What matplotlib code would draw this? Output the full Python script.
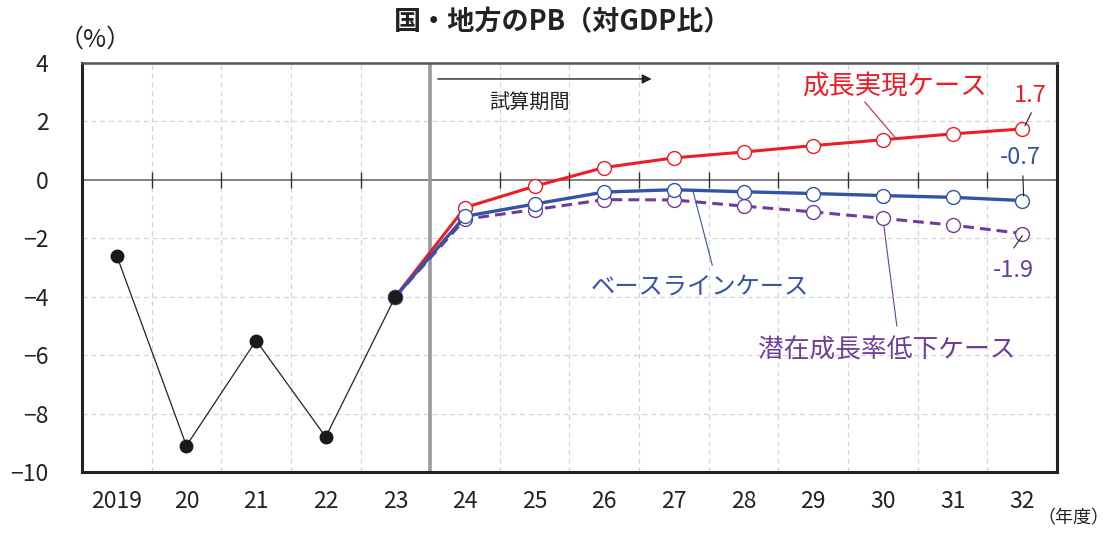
import numpy as np
import matplotlib
matplotlib.use('Agg')
import matplotlib.pyplot as plt

plt.rcParams['font.family'] = ['Noto Sans CJK JP', 'DejaVu Sans']
plt.rcParams['axes.unicode_minus'] = True

# actual values (FY2019-2023)
actual_years = [2019, 2020, 2021, 2022, 2023]
actual_pb = [-2.6, -9.1, -5.5, -8.8, -4.0]

# projections (start from FY2023 actual)
proj_years = [2023, 2024, 2025, 2026, 2027, 2028, 2029, 2030, 2031, 2032]
growth_pb = [-4.0, -0.95, -0.22, 0.42, 0.75, 0.95, 1.17, 1.37, 1.57, 1.74]
baseline_pb = [-4.0, -1.25, -0.83, -0.42, -0.34, -0.41, -0.47, -0.54, -0.60, -0.71]
lowgrowth_pb = [-4.0, -1.35, -1.02, -0.68, -0.69, -0.90, -1.10, -1.32, -1.55, -1.84]

xtick_labels = ['2019', '20', '21', '22', '23', '24', '25', '26', '27', '28',
                '29', '30', '31', '32']

red = '#ee1c25'
blue = '#3453a4'
purple = '#6f3d98'

fig = plt.figure(figsize=(11.15, 5.33), dpi=100)
ax = fig.add_axes([0.0735, 0.1144, 0.8745, 0.7676])

ax.set_xlim(2018.5, 2032.5)
ax.set_ylim(-10, 4)

# grid
half_years = np.arange(2019.5, 2032, 1.0)
for xv in half_years:
    if xv == 2023.5:
        continue
    ax.axvline(xv, color='#d4d4d4', linestyle=(0, (4, 3)), linewidth=0.9, zorder=0)
for yv in [-8, -6, -4, -2, 2]:
    ax.axhline(yv, color='#d4d4d4', linestyle=(0, (4, 3)), linewidth=0.9, zorder=0)

# zero line with small ticks
ax.axhline(0, color='#777777', linewidth=1.3, zorder=1)
ax.plot(half_years, np.zeros(len(half_years)), linestyle='none', marker='|',
        markersize=11, markeredgewidth=1.0, color='#333333', zorder=1)

# projection start
ax.axvline(2023.5, color='#9a9a9a', linewidth=2.6, zorder=1)

# series
ax.plot(proj_years, lowgrowth_pb, color=purple, linewidth=2.2, linestyle=(0, (3.5, 2)),
        marker='o', markersize=10, markerfacecolor='white', markeredgecolor=purple,
        markeredgewidth=1.0, zorder=3)
ax.plot(proj_years, growth_pb, color=red, linewidth=2.2,
        marker='o', markersize=10, markerfacecolor='white', markeredgecolor=red,
        markeredgewidth=1.0, zorder=4)
ax.plot(proj_years, baseline_pb, color=blue, linewidth=2.4,
        marker='o', markersize=10, markerfacecolor='white', markeredgecolor=blue,
        markeredgewidth=1.0, zorder=5)
ax.plot(actual_years, actual_pb, color='#222222', linewidth=0.9,
        marker='o', markersize=9, markerfacecolor='#1a1a1a', markeredgecolor='#1a1a1a',
        zorder=6)

# axes styling
for s in ax.spines.values():
    s.set_linewidth(2.2)
    s.set_color('#222222')
ax.spines['top'].set_color('#555555')
ax.spines['top'].set_linewidth(1.8)

ax.set_xticks(range(2019, 2033))
ax.set_xticklabels(xtick_labels)
ax.set_yticks(range(-10, 5, 2))
ax.tick_params(axis='both', length=0, labelsize=16.5, colors='#222222')
ax.tick_params(axis='y', pad=24)
ax.tick_params(axis='x', pad=13)

# annotations
ax.annotate('', xy=(2026.68, 3.45), xytext=(2023.61, 3.45),
            arrowprops=dict(arrowstyle='-|>', color='#222222', lw=1.0,
                            mutation_scale=14, shrinkA=0, shrinkB=0))
ax.text(2024.93, 2.63, '試算期間', fontsize=14.5, color='#222222',
        ha='center', va='center')

ax.text(2030.17, 3.21, '成長実現ケース', fontsize=19, color=red, ha='center', va='center')
ax.plot([2029.74, 2030.19], [2.66, np.interp(2030.19, proj_years, growth_pb)],
        color=red, linewidth=0.8, zorder=4)

ax.text(2027.37, -3.67, 'ベースラインケース', fontsize=17.5, color=blue,
        ha='center', va='center')
ax.plot([2027.27, 2027.55], [np.interp(2027.27, proj_years, baseline_pb), -2.92],
        color=blue, linewidth=0.8, zorder=4)

ax.text(2030.06, -5.83, '潜在成長率低下ケース', fontsize=18.5, color=purple,
        ha='center', va='center')
ax.plot([2030.0, 2030.2], [lowgrowth_pb[7], -5.0], color=purple, linewidth=0.8, zorder=2)

ax.text(2032.11, 2.90, '1.7', fontsize=17, color=red, ha='center', va='center')
ax.plot([2032.13, 2032.04], [2.29, 1.85], color='#222222', linewidth=0.8, zorder=6)

ax.text(2031.98, 0.75, '-0.7', fontsize=17, color=blue, ha='center', va='center')
ax.plot([2032.01, 2032.02], [0.13, -0.55], color='#222222', linewidth=0.8, zorder=6)

ax.text(2031.87, -3.1, '-1.9', fontsize=17, color=purple, ha='center', va='center')
ax.plot([2031.88, 2032.0], [-2.33, -1.92], color='#222222', linewidth=0.8, zorder=6)

fig.text(0.505, 0.958, '国・地方のPB（対GDP比）', fontsize=19.5, fontweight='bold',
         color='#222222', ha='center', va='center')
fig.text(0.085, 0.925, '（%）', fontsize=18, color='#222222', ha='center', va='center')
fig.text(0.995, 0.028, '（年度）', fontsize=13, color='#222222', ha='right', va='center')

fig.savefig('out.png', dpi=100)
